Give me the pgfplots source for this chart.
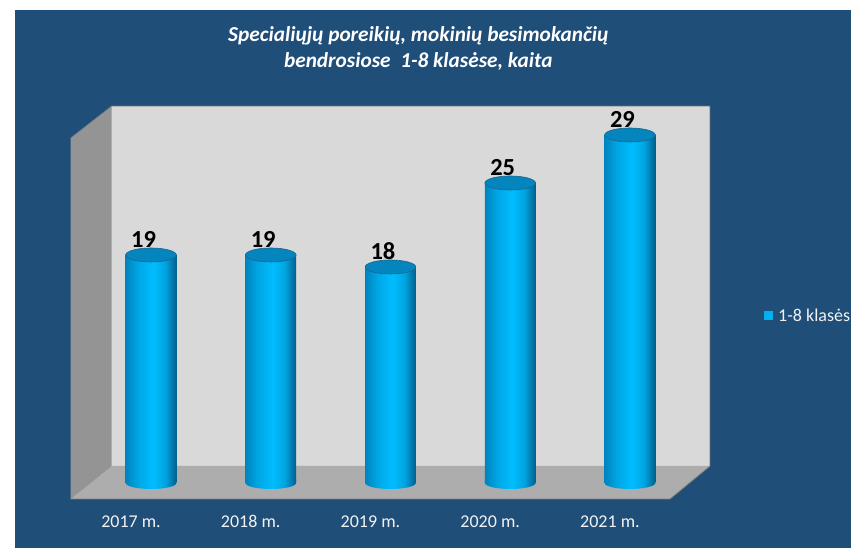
\documentclass[border=0pt]{standalone}
\usepackage{fontspec}
\setmainfont{Carlito}
\usepackage{pgfplots}
\pgfplotsset{compat=1.18}
\definecolor{bgblue}{HTML}{1F4E79}
\definecolor{backwall}{HTML}{D9D9D9}
\definecolor{sidewall}{HTML}{949494}
\definecolor{floorwall}{HTML}{ADADAD}
\definecolor{capblue}{HTML}{0485BE}
\definecolor{legblue}{HTML}{00B0F0}
\definecolor{cylA}{HTML}{0084BE}
\definecolor{cylB}{HTML}{00A6E4}
\definecolor{cylC}{HTML}{00BDFF}
\definecolor{cylD}{HTML}{00A4E0}
\definecolor{cylE}{HTML}{005F8E}
\pgfdeclarehorizontalshading{cyl}{100bp}{
  color(0bp)=(cylA); color(25bp)=(cylA); color(37bp)=(cylB);
  color(52bp)=(cylC); color(64bp)=(cylD); color(75bp)=(cylE); color(100bp)=(cylE)}
% bare (0,0) would be axis cs inside the axis, hence canvas cs
\pgfdeclareplotmark{cylbase}{\shade[shading=cyl,draw=none,rotate=5]
  (canvas cs:x=-25.3pt,y=4pt) -- (canvas cs:x=-25.3pt,y=0pt)
  arc[start angle=180,end angle=360,x radius=25.3pt,y radius=6pt]
  -- (canvas cs:x=25.3pt,y=4pt) -- cycle;}
\pgfdeclareplotmark{cyltop}{\filldraw[fill=capblue,draw=cylE!80!gray,line width=0.6pt,rotate=5] (canvas cs:x=0pt,y=0pt) ellipse (25.3pt and 7pt);}
\pgfplotstableread{
x y
0 19
1 19
2 18
3 25
4 29
}\kids
\pgfplotstableread{
x y
0 0
1 0
2 0
3 0
4 0
}\bases
\pgfplotsset{cylbar/.style={ybar, bar width=50.6pt, draw=none, shade, shading=cyl,
  nodes near coords,
  /pgf/number format/assume math mode=true,
  every node near coord/.append style={font=\fontsize{24.5}{26}\selectfont\bfseries, text=black,
    anchor=center, xshift=-7.5pt, yshift=15.5pt}}}
\begin{document}
\begin{tikzpicture}
\path[use as bounding box] (0,0) rectangle (851pt,548pt);
\clip (0,0) rectangle (851pt,548pt);
\begin{scope}[x=1pt,y=-1pt,yshift=548pt]
\fill[white] (0,0) rectangle (851,548);
\fill[bgblue] (15,10) rectangle (851,548);
\fill[backwall] (111,106) rectangle (710,467);
\fill[sidewall] (70.5,138) -- (111.5,106) -- (111.5,466) -- (70.5,499) -- cycle;
\fill[floorwall] (70.5,499) -- (111.5,466) -- (710,466) -- (670,499) -- cycle;
\draw[gray!70!bgblue,line width=0.6pt] (70.5,138) -- (111.5,106) -- (710,106) -- (710,466);
\draw[gray,line width=0.8pt] (70.5,499) -- (670,499) -- (710,466);
\end{scope}
\begin{axis}[
  at={(0,0)}, anchor=south west,
  scale only axis, width=851pt, height=548pt,
  xmin=-1.261, xmax=5.846,
  ymin=-5.417, ymax=40.25,
  axis line style={draw=none},
  major tick length=0pt,
  ytick=\empty,
  xtick={0,1,2,3,4},
  xticklabels={2017 m.,2018 m.,2019 m.,2020 m.,2021 m.},
  xticklabel style={font=\fontsize{18}{20}\selectfont, text=white!95!black, xshift=-20pt, yshift=36pt},
  title style={at={(0.4915,1)}, anchor=north, yshift=-29pt, align=center,
    font=\fontsize{21.3}{26}\selectfont\bfseries\itshape, text=white},
  title={Specialiųjų poreikių, mokinių besimokančių\\bendrosiose\ \ 1-8 klasėse, kaita},
  legend style={at={(0.8978,0.4234)}, anchor=west, draw=none, fill=none,
    inner xsep=0pt, inner ysep=0pt, font=\fontsize{18}{20}\selectfont, text=white!95!black},
  legend image code/.code={\pgfsetfillcolor{legblue}\pgfpathrectangle{\pgfqpoint{0pt}{-4.5pt}}{\pgfqpoint{9pt}{9pt}}\pgfusepathqfill},
]
\addplot[only marks, mark=cylbase, forget plot] table[x=x,y=y] {\bases};
\addplot[cylbar] coordinates {(0,19)};
\addlegendentry{\kern3pt 1-8 klasės}
\addplot[cylbar, forget plot] coordinates {(1,19)};
\addplot[cylbar, forget plot] coordinates {(2,18)};
\addplot[cylbar, forget plot] coordinates {(3,25)};
\addplot[cylbar, forget plot] coordinates {(4,29)};
\addplot[only marks, mark=cyltop, forget plot] table[x=x,y=y] {\kids};
\end{axis}
\end{tikzpicture}
\end{document}
